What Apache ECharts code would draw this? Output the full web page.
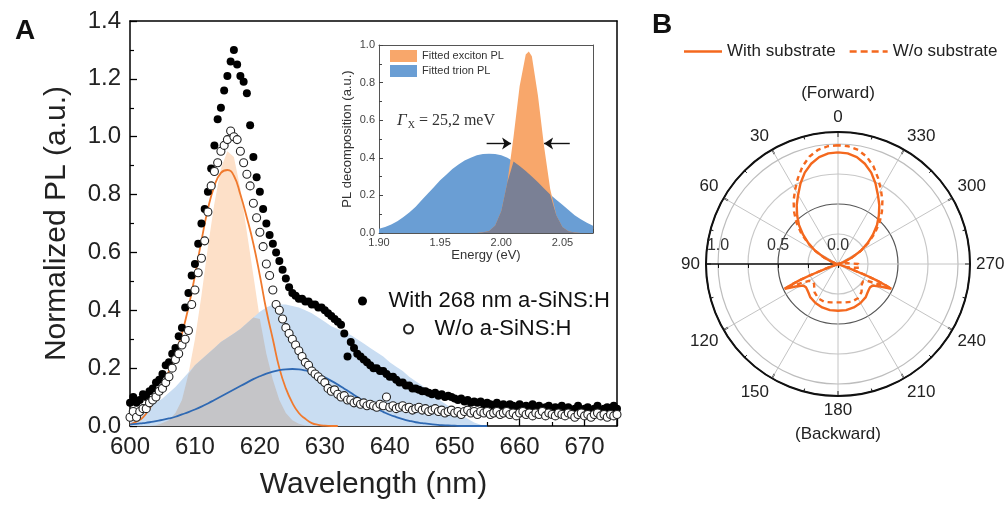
<!DOCTYPE html>
<html><head><meta charset="utf-8">
<script src="https://cdn.jsdelivr.net/npm/echarts@6/dist/echarts.min.js"></script>
<style>html,body{margin:0;padding:0;background:#fff}#c{width:1005px;height:505px}</style>
</head><body><div id="c"></div>
<script>
// ---------- Panel A : measured PL (scatter) ----------
const WL_DOTS = [600,600.5,601,601.5,602,602.5,603,603.5,604,604.5,605,605.5,606,606.5,607,607.5,608,608.5,609,609.5,
610,610.5,611,611.5,612,612.5,613,613.5,614,614.5,615,615.5,616,616.5,617,617.5,618,618.5,619,619.5,
620,620.5,621,621.5,622,622.5,623,623.5,624,624.5,625,625.5,626,626.5,627,627.5,628,628.5,629,629.5,
630,630.5,631,631.5,632,632.5,633,633.5,634,634.5,635,635.5,636,636.5,637,637.5,638,638.5,639,639.5,
640,640.5,641,641.5,642,642.5,643,643.5,644,644.5,645,645.5,646,646.5,647,647.5,648,648.5,649,649.5,
650,650.5,651,651.5,652,652.5,653,653.5,654,654.5,655,655.5,656,656.5,657,657.5,658,658.5,659,659.5,
660,660.5,661,661.5,662,662.5,663,663.5,664,664.5,665,665.5,666,666.5,667,667.5,668,668.5,669,669.5,
670,670.5,671,671.5,672,672.5,673,673.5,674,674.5,675];
const PL_WITH = [0.08,0.10,0.08,0.09,0.11,0.10,0.12,0.13,0.15,0.16,0.18,0.21,0.22,0.25,0.27,0.31,0.34,0.41,0.46,0.52,
0.56,0.63,0.70,0.75,0.81,0.89,0.97,1.06,1.10,1.16,1.21,1.26,1.30,1.25,1.21,1.19,1.15,1.04,0.93,0.86,
0.81,0.75,0.70,0.66,0.63,0.60,0.57,0.54,0.51,0.48,0.46,0.45,0.44,0.44,0.43,0.43,0.42,0.42,0.41,0.41,
0.40,0.39,0.38,0.37,0.36,0.35,0.32,0.24,0.29,0.27,0.25,0.24,0.23,0.22,0.21,0.20,0.20,0.19,0.19,0.18,
0.17,0.17,0.16,0.15,0.15,0.14,0.14,0.13,0.13,0.125,0.12,0.12,0.115,0.11,0.115,0.105,0.11,0.10,0.105,0.10,
0.095,0.09,0.095,0.085,0.09,0.08,0.085,0.08,0.085,0.075,0.08,0.075,0.07,0.08,0.07,0.075,0.065,0.075,0.07,0.065,
0.075,0.065,0.07,0.06,0.075,0.065,0.07,0.06,0.065,0.07,0.06,0.065,0.055,0.07,0.06,0.065,0.055,0.06,0.07,0.055,
0.06,0.065,0.05,0.06,0.07,0.055,0.06,0.065,0.055,0.07,0.06];
const PL_WO = [0.03,0.05,0.03,0.05,0.06,0.06,0.08,0.09,0.10,0.12,0.13,0.15,0.17,0.20,0.23,0.25,0.28,0.30,0.33,0.42,
0.47,0.53,0.58,0.64,0.74,0.83,0.88,0.91,0.95,0.97,0.99,1.02,1.00,0.99,0.95,0.91,0.87,0.83,0.77,0.72,
0.67,0.62,0.56,0.52,0.47,0.42,0.40,0.37,0.34,0.32,0.30,0.28,0.26,0.24,0.22,0.21,0.19,0.18,0.17,0.16,
0.15,0.13,0.12,0.125,0.11,0.10,0.105,0.09,0.09,0.08,0.085,0.075,0.08,0.07,0.075,0.07,0.065,0.075,0.07,0.10,
0.065,0.07,0.06,0.065,0.07,0.06,0.065,0.055,0.06,0.065,0.055,0.06,0.05,0.055,0.06,0.05,0.055,0.045,0.05,0.055,
0.045,0.05,0.04,0.05,0.055,0.045,0.05,0.04,0.05,0.045,0.05,0.04,0.045,0.05,0.04,0.045,0.05,0.04,0.045,0.035,
0.045,0.05,0.04,0.045,0.035,0.045,0.04,0.05,0.035,0.045,0.04,0.035,0.045,0.04,0.035,0.045,0.04,0.03,0.04,0.045,
0.035,0.04,0.03,0.04,0.045,0.035,0.04,0.03,0.04,0.035,0.04];

// ---------- Panel A : fitted components (1 nm grid) ----------
const WL_FIT = [600,601,602,603,604,605,606,607,608,609,610,611,612,613,614,615,616,617,618,619,
620,621,622,623,624,625,626,627,628,629,630,631,632,633,634,635,636,637,638,639,
640,641,642,643,644,645,646,647,648,649,650,651,652,653,654,655];
const FIT_EXCITON = [0,0,0,0,0.003,0.01,0.02,0.045,0.09,0.18,0.30,0.45,0.62,0.77,0.89,0.95,0.93,0.82,0.67,0.52,
0.37,0.25,0.16,0.09,0.045,0.02,0.008,0.002,0,0,0,0,0,0,0,0,0,0,0,0,
0,0,0,0,0,0,0,0,0,0,0,0,0,0,0,0];
const FIT_TRION = [0.02,0.035,0.05,0.065,0.08,0.095,0.115,0.135,0.16,0.185,0.21,0.23,0.25,0.27,0.29,0.305,0.32,0.335,0.355,0.375,
0.395,0.41,0.42,0.42,0.42,0.415,0.41,0.40,0.39,0.375,0.36,0.345,0.335,0.325,0.315,0.30,0.285,0.27,0.255,0.24,
0.22,0.205,0.19,0.17,0.155,0.14,0.12,0.10,0.085,0.07,0.06,0.04,0.025,0.012,0.004,0];
const LINE_EXCITON = [0.005,0.015,0.03,0.06,0.10,0.14,0.19,0.25,0.32,0.41,0.52,0.64,0.75,0.83,0.875,0.885,0.865,0.80,0.72,0.63,
0.52,0.40,0.30,0.20,0.13,0.08,0.045,0.025,0.01,0.004,0.001,0,0];
const LINE_TRION = [0.005,0.007,0.01,0.013,0.017,0.021,0.026,0.032,0.04,0.048,0.057,0.067,0.078,0.09,0.102,0.114,0.126,0.138,0.15,0.162,
0.172,0.181,0.188,0.193,0.196,0.197,0.196,0.192,0.186,0.178,0.168,0.156,0.143,0.129,0.115,0.10,0.086,0.073,0.06,0.049,
0.039,0.031,0.024,0.018,0.013,0.01,0.007,0.005,0.003,0.002,0.001,0,0,0,0,0];

// ---------- Inset : decomposition vs energy ----------
const E_INSET = [1.900,1.905,1.910,1.915,1.920,1.925,1.930,1.935,1.940,1.945,1.950,1.955,1.960,1.965,1.970,1.975,1.980,1.985,1.990,1.995,
2.000,2.005,2.010,2.015,2.020,2.0225,2.025,2.030,2.035,2.040,2.045,2.050,2.055,2.060,2.065,2.070,2.075];
const INSET_TRION = [0.023,0.032,0.045,0.063,0.085,0.11,0.14,0.175,0.21,0.245,0.28,0.31,0.34,0.365,0.385,0.40,0.413,0.42,0.422,0.42,
0.413,0.40,0.38,0.357,0.33,0.315,0.30,0.27,0.237,0.205,0.177,0.15,0.122,0.095,0.073,0.055,0.038];
const INSET_EXCITON = [0,0,0,0,0,0,0,0,0,0,0,0,0,0,0,0,0,0.004,0.011,0.04,
0.117,0.27,0.51,0.78,0.95,0.965,0.94,0.73,0.46,0.234,0.095,0.032,0.009,0.002,0,0,0];

// ---------- Panel B : polar emission pattern ----------
const ANG_WITH = [0,5,10,15,20,25,30,35,40,45,50,55,60,65,70,75,80,90,100,108,110,112,113,114,115,118,122,126,130,135,140,150,160,170,
180,190,200,210,220,225,230,234,238,242,245,246,247,248,250,252,260,270,280,285,290,295,300,305,310,315,320,325,330,335,340,345,350,355,360];
const R_WITH = [0.93,0.925,0.905,0.865,0.81,0.74,0.665,0.60,0.53,0.46,0.38,0.30,0.22,0.13,0.06,0.02,0,0,0,0,0.08,0.25,0.35,0.43,0.49,0.40,0.34,0.33,0.335,0.345,0.36,0.375,0.385,0.39,
0.39,0.39,0.385,0.375,0.36,0.345,0.335,0.33,0.34,0.40,0.49,0.43,0.35,0.25,0.08,0,0,0,0,0.02,0.06,0.13,0.22,0.30,0.38,0.46,0.53,0.60,0.665,0.74,0.81,0.865,0.905,0.925,0.93];
const ANG_WO = [0,5,10,15,20,25,30,35,40,45,50,55,60,65,70,75,80,90,100,108,110,112,113,114,115,117,120,125,130,135,140,150,160,170,
180,190,200,210,220,225,230,235,240,243,245,246,247,248,250,255,260,265,270,275,280,285,290,295,300,305,310,315,320,325,330,335,340,345,350,355,360];
const R_WO = [0.99,0.985,0.965,0.925,0.865,0.79,0.715,0.645,0.57,0.49,0.40,0.31,0.22,0.13,0.06,0.02,0,0,0,0,0.08,0.25,0.35,0.43,0.49,0.36,0.28,0.255,0.26,0.28,0.305,0.33,0.335,0.325,
0.32,0.325,0.335,0.33,0.305,0.28,0.26,0.255,0.28,0.36,0.49,0.43,0.35,0.25,0.08,0.12,0.18,0.19,0.17,0.08,0,0.02,0.06,0.13,0.22,0.31,0.40,0.49,0.57,0.645,0.715,0.79,0.865,0.925,0.965,0.985,0.99];

const FONT = 'Liberation Sans, Arial, sans-serif';
const pairs = (xs, ys) => ys.map((y, i) => [xs[i], y]);
const overlapA = WL_FIT.map((x, i) => [x, Math.min(FIT_EXCITON[i], FIT_TRION[i])]);
const overlapIn = E_INSET.map((x, i) => [x, Math.min(INSET_EXCITON[i], INSET_TRION[i])]);
const polarData = (angs, rs) => rs.map((r, i) => [r, angs[i] < 90 ? angs[i] + 360 : angs[i]]);

const chart = echarts.init(document.getElementById('c'), null, {renderer: 'canvas'});
const frameAxis = (grid, pos, min, max, color, w) => ({
  gridIndex: grid, type: 'value', position: pos, min: min, max: max,
  axisLine: {show: true, onZero: false, lineStyle: {color: color, width: w}},
  axisTick: {show: false}, axisLabel: {show: false}, splitLine: {show: false}
});
const fill = (name, data, color, xi, yi, z) => ({
  name: name, type: 'line', xAxisIndex: xi, yAxisIndex: yi, data: data, showSymbol: false, symbol: 'none',
  lineStyle: {width: 0}, itemStyle: {color: color}, areaStyle: {color: color, opacity: 1}, z: z, silent: true
});

chart.setOption({
  animation: false,
  backgroundColor: '#fff',
  textStyle: {fontFamily: FONT},
  title: [
    {text: 'A', left: 10, top: 12, textStyle: {fontSize: 28, fontWeight: 'bold', color: '#111', fontFamily: FONT}},
    {text: 'B', left: 647, top: 6, textStyle: {fontSize: 28, fontWeight: 'bold', color: '#111', fontFamily: FONT}},
    {text: '{g|Γ}{s|X}{t| = 25,2 meV}', left: 392, top: 106,
     textStyle: {fontWeight: 'normal', rich: {
       g: {fontFamily: 'Liberation Serif', fontStyle: 'italic', fontWeight: 'normal', fontSize: 17, color: '#333'},
       s: {fontFamily: 'Liberation Serif', fontWeight: 'normal', fontSize: 10, color: '#333', padding: [9, 0, 0, 1]},
       t: {fontFamily: 'Liberation Serif', fontWeight: 'normal', fontSize: 16, color: '#333'}}}}
  ],
  legend: [
    {data: ['With 268 nm a-SiNS:H'], left: 358, top: 290, icon: 'circle', itemWidth: 42, itemHeight: 9, padding: 0,
     textStyle: {fontSize: 22, color: '#111', fontFamily: FONT}},
    {data: ['W/o a-SiNS:H'], left: 403, top: 318, icon: 'circle', itemWidth: 42, itemHeight: 9, padding: 0,
     textStyle: {fontSize: 22, color: '#111', fontFamily: FONT}},
    {data: [{name: 'Fitted exciton PL', icon: 'rect'}, {name: 'Fitted trion PL', icon: 'rect'}],
     orient: 'vertical', left: 390, top: 50, itemWidth: 27, itemHeight: 12, itemGap: 3, padding: 0,
     textStyle: {fontSize: 11, color: '#333', fontFamily: FONT}},
    {data: [
       {name: 'With substrate', icon: 'path://M0,0H38V2.5H0Z'},
       {name: 'W/o substrate', icon: 'path://M0,0H7V2.5H0Z M11,0H18V2.5H11Z M22,0H29V2.5H22Z M33,0H38V2.5H33Z'}],
     left: 684, top: 43, itemWidth: 38, itemHeight: 3, itemGap: 14, padding: 0,
     textStyle: {fontSize: 17, color: '#222', fontFamily: FONT}}
  ],
  grid: [
    {left: 130, top: 21, width: 487, height: 406},
    {left: 379, top: 45, width: 214, height: 188}
  ],
  xAxis: [
    {gridIndex: 0, type: 'value', min: 600, max: 675, interval: 10,
     axisLine: {onZero: false, lineStyle: {color: '#000', width: 1.5}},
     axisTick: {inside: true, length: 7, lineStyle: {color: '#000', width: 1.3}},
     minorTick: {show: true, splitNumber: 2, length: 4, lineStyle: {color: '#000', width: 1.2}},
     axisLabel: {fontSize: 24, color: '#222', margin: 9, showMaxLabel: false, fontFamily: FONT},
     splitLine: {show: false},
     name: 'Wavelength (nm)', nameLocation: 'middle', nameGap: 44,
     nameTextStyle: {fontSize: 30, color: '#222', fontFamily: FONT}},
    frameAxis(0, 'top', 600, 675, '#000', 1.5),
    {gridIndex: 1, type: 'value', min: 1.9, max: 2.075, interval: 0.05,
     axisLine: {onZero: false, lineStyle: {color: '#555', width: 1}},
     axisTick: {inside: true, length: 4, lineStyle: {color: '#444'}},
     minorTick: {show: true, splitNumber: 2, length: 3, lineStyle: {color: '#444'}},
     axisLabel: {fontSize: 11, color: '#444', margin: 4, showMaxLabel: false, fontFamily: FONT,
       formatter: v => v.toFixed(2)},
     splitLine: {show: false},
     name: 'Energy (eV)', nameLocation: 'middle', nameGap: 14,
     nameTextStyle: {fontSize: 13, color: '#333', fontFamily: FONT}},
    frameAxis(1, 'top', 1.9, 2.075, '#555', 1)
  ],
  yAxis: [
    {gridIndex: 0, type: 'value', min: 0, max: 1.4, interval: 0.2,
     axisLine: {onZero: false, lineStyle: {color: '#000', width: 1.5}},
     axisTick: {inside: true, length: 7, lineStyle: {color: '#000', width: 1.3}},
     minorTick: {show: true, splitNumber: 2, length: 4, lineStyle: {color: '#000', width: 1.2}},
     axisLabel: {fontSize: 24, color: '#222', margin: 9, fontFamily: FONT, formatter: v => v.toFixed(1)},
     splitLine: {show: false},
     name: 'Normalized PL (a.u.)', nameLocation: 'middle', nameGap: 58,
     nameTextStyle: {fontSize: 30, color: '#222', fontFamily: FONT}},
    frameAxis(0, 'right', 0, 1.4, '#000', 1.5),
    {gridIndex: 1, type: 'value', min: 0, max: 1.0, interval: 0.2,
     axisLine: {onZero: false, lineStyle: {color: '#555', width: 1}},
     axisTick: {inside: true, length: 4, lineStyle: {color: '#444'}},
     minorTick: {show: true, splitNumber: 2, length: 3, lineStyle: {color: '#444'}},
     axisLabel: {fontSize: 11, color: '#444', margin: 4, fontFamily: FONT, formatter: v => v.toFixed(1)},
     splitLine: {show: false},
     name: 'PL decomposition (a.u.)', nameLocation: 'middle', nameGap: 25,
     nameTextStyle: {fontSize: 13, color: '#333', fontFamily: FONT}},
    frameAxis(1, 'right', 0, 1.0, '#555', 1)
  ],
  polar: {center: [838, 264], radius: 132},
  angleAxis: {
    type: 'value', min: 90, max: 450, interval: 30, startAngle: 180, clockwise: false,
    axisLine: {lineStyle: {color: '#111', width: 2}},
    axisTick: {show: true, inside: true, length: 5, lineStyle: {color: '#111', width: 1.5}},
    minorTick: {show: true, splitNumber: 2, length: 3, lineStyle: {color: '#111', width: 1}},
    axisLabel: {fontSize: 17, color: '#222', margin: 6, fontFamily: FONT,
      rich: {
        n: {fontSize: 17, color: '#222', fontFamily: FONT, lineHeight: 17},
        f: {fontSize: 17, color: '#222', fontFamily: FONT, lineHeight: 31}
      },
      formatter: v => {
        const a = Math.round(v) % 360;
        if (a === 0) return '{f|(Forward)}\n{n|0}';
        if (a === 180) return '{n|180}\n{f|(Backward)}';
        return String(a);
      }},
    splitLine: {show: true, lineStyle: {color: '#c4c4c4', width: 1}}
  },
  radiusAxis: {
    type: 'value', min: 0, max: 1.1, interval: 0.25,
    axisLine: {lineStyle: {color: '#111', width: 1.5}},
    axisTick: {show: true, length: 4, lineStyle: {color: '#111'}},
    axisLabel: {fontSize: 16, color: '#333', fontFamily: FONT, margin: -26,
      formatter: v => (Math.abs(v) < 1e-9 ? '0.0' : Math.abs(v - 0.5) < 1e-9 ? '0.5' : Math.abs(v - 1) < 1e-9 ? '1.0' : '')},
    splitLine: {show: true, lineStyle: {color: ['#c8c8c8', '#c8c8c8', '#555', '#c8c8c8', '#bdbdbd', '#111'], width: 1.2}}
  },
  series: [
    fill('Exciton fill', pairs(WL_FIT, FIT_EXCITON), '#FDE0C8', 0, 0, 1),
    fill('Trion fill', pairs(WL_FIT, FIT_TRION), '#C9DDF2', 0, 0, 1),
    fill('Overlap fill', overlapA, '#C5C5C8', 0, 0, 1),
    {name: 'Exciton fit', type: 'line', xAxisIndex: 0, yAxisIndex: 0, data: pairs(WL_FIT, LINE_EXCITON),
     smooth: true, showSymbol: false, symbol: 'none', lineStyle: {color: '#F07A2E', width: 1.8}, z: 2, silent: true},
    {name: 'Trion fit', type: 'line', xAxisIndex: 0, yAxisIndex: 0, data: pairs(WL_FIT, LINE_TRION),
     smooth: true, showSymbol: false, symbol: 'none', lineStyle: {color: '#2F69B3', width: 1.8}, z: 2, silent: true},
    {name: 'With 268 nm a-SiNS:H', type: 'scatter', xAxisIndex: 0, yAxisIndex: 0, data: pairs(WL_DOTS, PL_WITH),
     symbol: 'circle', symbolSize: 8, itemStyle: {color: '#000', opacity: 1}, z: 3, silent: true},
    {name: 'W/o a-SiNS:H', type: 'scatter', xAxisIndex: 0, yAxisIndex: 0, data: pairs(WL_DOTS, PL_WO),
     symbol: 'circle', symbolSize: 8, itemStyle: {color: '#fff', borderColor: '#222', borderWidth: 1.1, opacity: 1}, z: 4, silent: true},
    fill('Fitted trion PL', pairs(E_INSET, INSET_TRION), '#6A9ED4', 2, 2, 1),
    Object.assign(fill('Fitted exciton PL', pairs(E_INSET, INSET_EXCITON), '#F8A76B', 2, 2, 1), {
      markLine: {silent: true, symbol: ['none', 'arrow'], symbolSize: 9, label: {show: false},
        lineStyle: {color: '#111', width: 1.4, type: 'solid'},
        data: [[{coord: [1.988, 0.476]}, {coord: [2.008, 0.476]}], [{coord: [2.056, 0.476]}, {coord: [2.035, 0.476]}]]}}),
    fill('Inset overlap', overlapIn, '#7A8095', 2, 2, 1),
    {name: 'With substrate', type: 'line', coordinateSystem: 'polar', data: polarData(ANG_WITH, R_WITH),
     symbol: 'none', showSymbol: false, lineStyle: {color: '#F4681E', width: 2.4}, itemStyle: {color: '#F4681E'}, z: 3, silent: true},
    {name: 'W/o substrate', type: 'line', coordinateSystem: 'polar', data: polarData(ANG_WO, R_WO),
     symbol: 'none', showSymbol: false, lineStyle: {color: '#F4681E', width: 2.4, type: [5, 4]}, itemStyle: {color: '#F4681E'}, z: 3, silent: true}
  ]
});
</script></body></html>
